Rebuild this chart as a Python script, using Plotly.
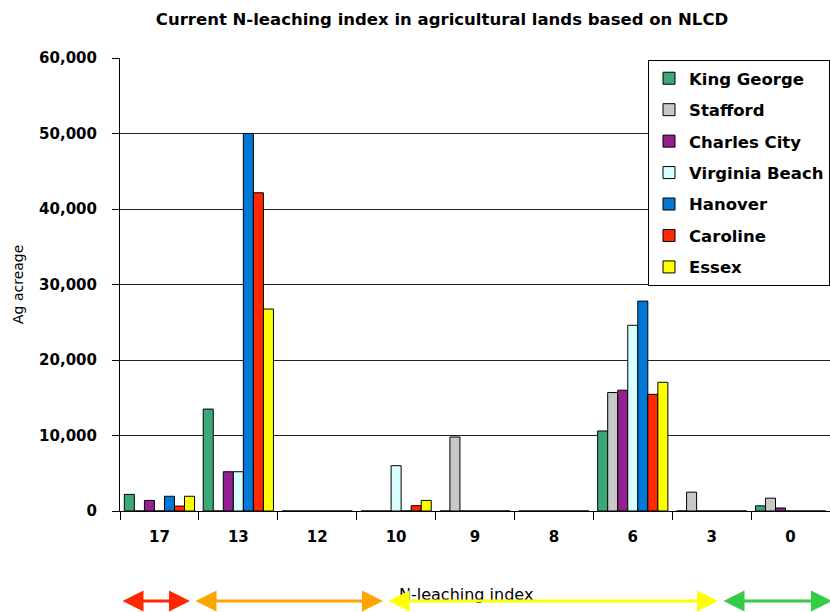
import plotly.graph_objects as go

categories = ["17", "13", "12", "10", "9", "8", "6", "3", "0"]
series_names = ["King George", "Stafford", "Charles City", "Virginia Beach", "Hanover", "Caroline", "Essex"]
king_george = [2200, 13500, 0, 0, 0, 0, 10600, 0, 680]
stafford = [0, 0, 0, 0, 9800, 0, 15700, 2500, 1700]
charles_city = [1400, 5200, 0, 0, 0, 0, 16000, 0, 400]
virginia_beach = [0, 5200, 0, 6000, 0, 0, 24600, 0, 0]
hanover = [1950, 50000, 0, 0, 0, 0, 27800, 0, 0]
caroline = [650, 42150, 0, 700, 0, 0, 15450, 0, 0]
essex = [1950, 26750, 0, 1400, 0, 0, 17050, 0, 0]
series_values = [king_george, stafford, charles_city, virginia_beach, hanover, caroline, essex]
colors = ["#3CA878", "#C8C8C8", "#922090", "#D8FFFF", "#0078D8", "#FF2800", "#FFFF00"]
y_ticks = [0, 10000, 20000, 30000, 40000, 50000, 60000]

fig = go.Figure()
for name, vals, col in zip(series_names, series_values, colors):
    fig.add_trace(go.Bar(
        x=categories, y=vals, name=name, legendgroup=name,
        marker=dict(color=col, line=dict(color="black", width=1)),
    ))

L, R, T, B = 120, 0, 58, 101
W, H = 830, 612
pw = W - L - R
ph = H - T - B

fig.update_layout(
    width=W, height=H,
    margin=dict(l=L, r=R, t=T, b=B, autoexpand=False),
    paper_bgcolor="white", plot_bgcolor="white",
    barmode="group", bargap=0.11, bargroupgap=0,
    font=dict(family="DejaVu Sans", color="black"),
    title=dict(text="<b>Current N-leaching index in agricultural lands based on NLCD</b>",
               x=442 / W, xanchor="center", y=1 - 19 / H, yanchor="middle",
               font=dict(size=16.5, family="DejaVu Sans", color="black")),
    showlegend=True,
    legend=dict(x=(648 - L) / pw, xanchor="left", y=1 - (60 - T) / ph, yanchor="top",
                bgcolor="white", bordercolor="black", borderwidth=1,
                font=dict(size=16.5, family="DejaVu Sans", color="black", weight="bold"),
                tracegroupgap=7, traceorder="grouped"),
    xaxis=dict(type="category", showline=True, linecolor="black", linewidth=1,
               ticks="outside", tickson="boundaries", ticklen=8, tickcolor="black",
               ticklabelstandoff=12,
               tickfont=dict(size=15, family="DejaVu Sans", color="black", weight="bold"),
               showgrid=False),
    yaxis=dict(range=[0, 60000], tickvals=y_ticks, tickformat=",d",
               showline=True, linecolor="black", linewidth=1,
               ticks="outside", ticklen=7, tickcolor="black",
               ticklabelstandoff=12,
               tickfont=dict(size=15, family="DejaVu Sans", color="black", weight="bold"),
               showgrid=True, gridcolor="#222222", gridwidth=1,
               zeroline=True, zerolinecolor="black", zerolinewidth=1),
)

# y axis title
fig.add_annotation(text="Ag acreage", xref="x domain", yref="y domain",
                   x=(18 - L) / pw, y=(511 - 285) / ph, textangle=-90, showarrow=False,
                   font=dict(size=14, family="DejaVu Sans", color="black"),
                   xanchor="center", yanchor="middle")

# x axis title
fig.add_annotation(text="N-leaching index", xref="x domain", yref="y domain",
                   x=(466 - L) / pw, y=(511 - 594) / ph, showarrow=False,
                   font=dict(size=16, family="DejaVu Sans", color="black"),
                   xanchor="center", yanchor="middle")

# range arrows
arrows = [(121, 190, "#FF2800"), (194, 383, "#FFA500"), (387, 718, "#FFFF00"), (722, 832, "#33CC44")]
ay_ = (511 - 601) / ph
for x0, x1, col in arrows:
    fig.add_annotation(text="", xref="x domain", yref="y domain", axref="x domain", ayref="y domain",
                       x=(x1 - L) / pw, y=ay_, ax=(x0 - L) / pw, ay=ay_,
                       showarrow=True, arrowhead=2, arrowside="end+start", arrowsize=1.4,
                       arrowwidth=3, arrowcolor=col)

fig.write_html("out.html")
